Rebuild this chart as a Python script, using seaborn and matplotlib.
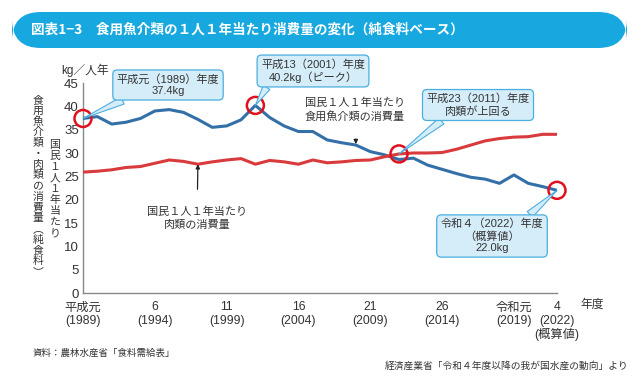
import numpy as np
import pandas as pd
import seaborn as sns
import matplotlib.pyplot as plt
from matplotlib.patches import FancyBboxPatch

years = list(range(1989, 2023))
fish = [37.4, 37.8, 36.2, 36.6, 37.4, 39.0, 39.3, 38.7, 37.2, 35.5,
        35.8, 37.1, 40.2, 37.6, 35.8, 34.6, 34.6, 32.8, 32.2, 31.7,
        30.3, 29.6, 28.6, 28.9, 27.4, 26.5, 25.6, 24.8, 24.4, 23.5,
        25.3, 23.5, 22.8, 22.0]
meat = [25.9, 26.1, 26.4, 26.9, 27.1, 27.8, 28.5, 28.2, 27.6, 28.1,
        28.5, 28.8, 27.6, 28.4, 28.1, 27.6, 28.5, 27.9, 28.1, 28.4,
        28.5, 29.2, 29.8, 30.0, 30.0, 30.1, 30.8, 31.7, 32.6, 33.1,
        33.4, 33.5, 34.0, 34.0]

tick_years = [1989, 1994, 1999, 2004, 2009, 2014, 2019, 2022]
tick_labels = ["平成元\n(1989)", "6\n(1994)", "11\n(1999)", "16\n(2004)",
               "21\n(2009)", "26\n(2014)", "令和元\n(2019)", "4\n(2022)\n(概算値)"]

# highlighted points: (year, series, callout text)
callouts = [
    (1989, "fish", "平成元（1989）年度\n37.4kg"),
    (2001, "fish", "平成13（2001）年度\n40.2kg（ピーク）"),
    (2011, "meat", "平成23（2011）年度\n肉類が上回る"),
    (2022, "fish", "令和４（2022）年度\n（概算値）\n22.0kg"),
]

df = pd.DataFrame({"year": years, "fish": fish, "meat": meat})
long = df.melt(id_vars="year", var_name="kind", value_name="kg")

sns.set_style("white")
plt.rcParams['font.family'] = ['Liberation Sans', 'Noto Sans CJK JP', 'DejaVu Sans']

BLUE = "#3470a8"
RED = "#d93a3c"
CIRC = "#e0101e"
BOXFC = "#d5edf9"
BOXEC = "#4aaee0"
TXT = "#333333"

fig = plt.figure(figsize=(6.4, 3.85), dpi=100)
ax = fig.add_axes([83/640, 1-293/385, (557-83)/640, (293-83)/385])

sns.lineplot(data=long, x="year", y="kg", hue="kind",
             palette={"fish": BLUE, "meat": RED}, linewidth=2.2,
             legend=False, ax=ax, zorder=3)

ax.set_xlim(1989, 2022)
ax.set_ylim(0, 45)
ax.set_yticks(np.arange(0, 46, 5))
ax.set_xticks(tick_years)
ax.set_xticklabels(tick_labels, fontsize=8.8, color=TXT, linespacing=1.15)
ax.tick_params(axis='y', labelsize=9.5, colors="#888888", labelcolor=TXT,
               direction='in', length=3, pad=3)
ax.tick_params(axis='x', colors="#888888", labelcolor=TXT,
               direction='in', length=3, pad=6)
ax.set_xlabel("")
ax.set_ylabel("")
sns.despine(ax=ax)
for s in ["left", "bottom"]:
    ax.spines[s].set_color("#888888")
    ax.spines[s].set_linewidth(1.0)

# red circles + callouts
box_pos = [(168, 300), (313, 314), (478, 280), (492, 149)]
relpos = [(0.15, 0.0), (0.08, 0.0), (0.2, 0.0), (0.82, 1.0)]
for (yr, kind, text), (bx, by), rp in zip(callouts, box_pos, relpos):
    val = df.loc[df.year == yr, kind].values[0]
    ax.scatter([yr], [val], s=150, facecolors='none', edgecolors=CIRC,
               linewidths=1.8, zorder=5, clip_on=False)
    ax.annotate(text, xy=(yr, val), xytext=(bx, by), textcoords='figure pixels',
                ha='center', va='center', fontsize=8, color=TXT,
                linespacing=1.2, zorder=6, annotation_clip=False,
                bbox=dict(boxstyle="round,pad=0.35,rounding_size=0.4",
                          fc=BOXFC, ec=BOXEC, lw=0.9),
                arrowprops=dict(arrowstyle="wedge,tail_width=0.7,shrink_factor=0.5",
                                fc=BOXFC, ec=BOXEC, lw=0.8, relpos=rp,
                                shrinkA=0, shrinkB=0))

# series labels with arrows
ax.annotate("国民１人１年当たり\n食用魚介類の消費量", xy=(2008, 31.9),
            xytext=(355, 275), textcoords='figure pixels', ha='center',
            va='center', fontsize=8, color=TXT, linespacing=1.3,
            arrowprops=dict(arrowstyle='-|>,head_length=0.3,head_width=0.15',
                            color="#222222", lw=0.9, shrinkA=10, shrinkB=0))
ax.annotate("国民１人１年当たり\n肉類の消費量", xy=(1997, 27.6),
            xytext=(197, 167), textcoords='figure pixels', ha='center',
            va='center', fontsize=8, color=TXT, linespacing=1.3,
            arrowprops=dict(arrowstyle='-|>,head_length=0.3,head_width=0.15',
                            color="#222222", lw=0.9, shrinkA=10, shrinkB=0))

# axis texts
fig.text(85/640, 1-70/385, "kg／人年", ha='center', va='center', fontsize=8.5, color=TXT)
fig.text(592/640, 1-305/385, "年度", ha='center', va='center', fontsize=8.5, color=TXT)

# vertical (tategaki) y-axis title, one character per row
col1 = "食用魚介類・肉類の消費量︵純食料︶"
col2 = "国民１人１年当たり"
for i, ch in enumerate(col1):
    fig.text(38/640, 1-(100 + i*10.75)/385, ch, ha='center', va='center',
             fontsize=7.8, color=TXT, family='Noto Sans CJK JP')
for i, ch in enumerate(col2):
    fig.text(55/640, 1-(145 + i*11)/385, ch, ha='center', va='center',
             fontsize=7.8, color=TXT, family='Noto Sans CJK JP')

# title banner
banner = FancyBboxPatch((12/640, 1-48/385), 615/640, 36/385,
                        boxstyle="round,pad=0,rounding_size=0.045",
                        transform=fig.transFigure, fc="#18a8e0", ec="none",
                        mutation_aspect=640/385)
fig.patches.append(banner)
fig.text(31/640, 1-30/385, "図表1−3　食用魚介類の１人１年当たり消費量の変化（純食料ベース）",
         ha='left', va='center', fontsize=9.8, color="white", fontweight='bold',
         family=['Noto Sans CJK JP', 'DejaVu Sans'])

fig.text(33/640, 1-353/385, "資料：農林水産省「食料需給表」", ha='left', va='center',
         fontsize=6.8, color=TXT, family='Noto Sans CJK JP')
fig.text(628/640, 1-366/385, "経済産業省「令和４年度以降の我が国水産の動向」より",
         ha='right', va='center', fontsize=7.0, color=TXT, family='Noto Sans CJK JP')

fig.savefig("out.png", dpi=100, facecolor="white")
